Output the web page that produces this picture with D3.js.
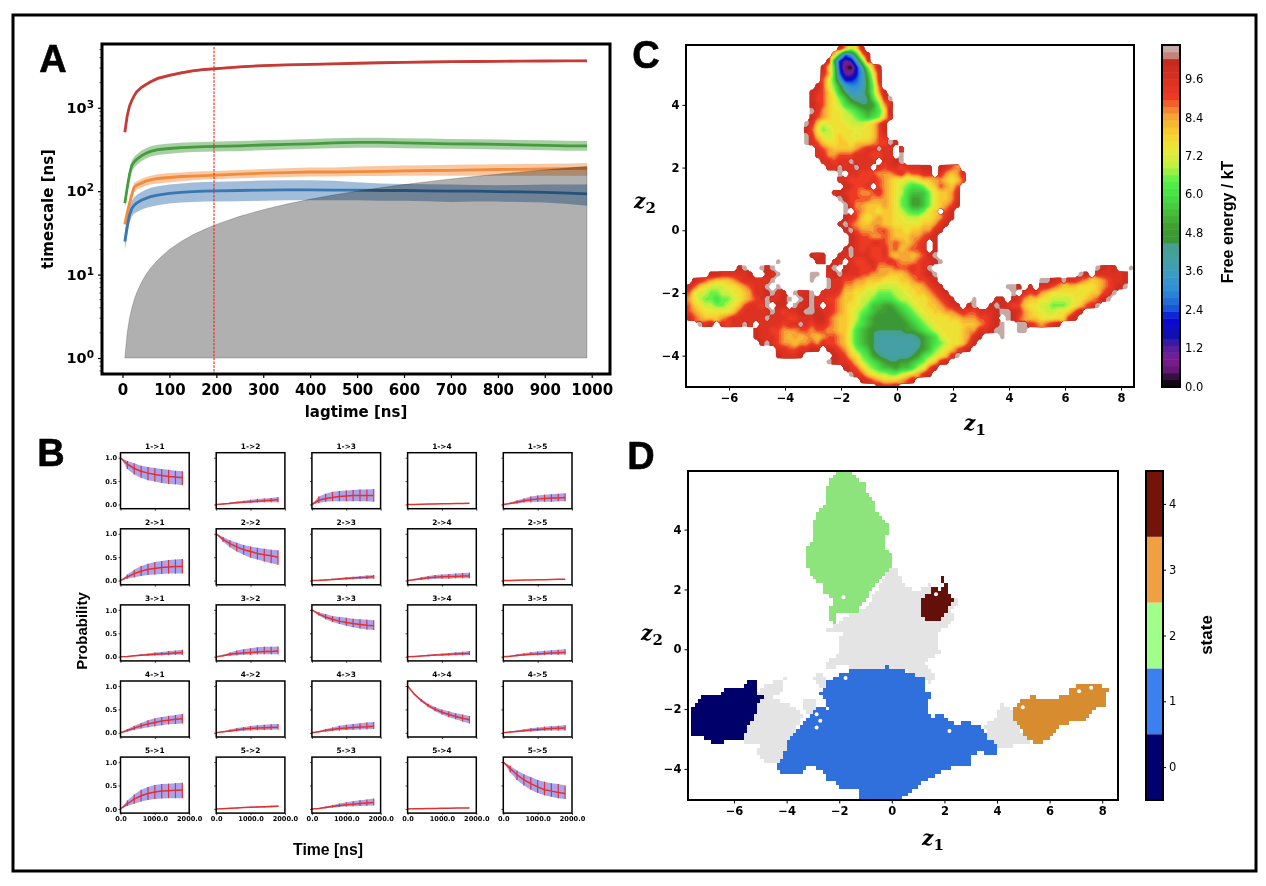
<!DOCTYPE html>
<html><head><meta charset="utf-8">
<script src="https://cdn.jsdelivr.net/npm/d3@7/dist/d3.min.js"></script>
<style>
html,body{margin:0;padding:0;background:#fff}
svg{display:block;filter:blur(.45px)}
text{fill:#000}
</style></head><body><div id="chart"></div>
<script>
// ---------- Panel A: implied timescales ----------
const lagTimes=[5,10,15,20,25,30,40,50,60,75,100,125,150,175,200,250,300,350,400,450,500,550,600,650,700,750,800,850,900,950,990];
const redMean=[510,800,1050,1230,1400,1550,1750,1900,2050,2250,2450,2620,2780,2880,2950,3100,3200,3270,3320,3370,3420,3470,3510,3540,3570,3590,3610,3630,3640,3650,3660];
const redLow=[490,770,1010,1180,1340,1480,1680,1830,1970,2160,2350,2520,2680,2780,2850,3000,3100,3170,3220,3270,3320,3370,3410,3440,3470,3490,3510,3530,3540,3550,3560];
const redHigh=[530,830,1090,1280,1460,1620,1820,1970,2130,2340,2550,2720,2880,2980,3050,3200,3300,3370,3420,3470,3520,3570,3610,3640,3670,3690,3710,3730,3740,3750,3760];
const greenMean=[72,110,160,205,225,240,265,285,300,315,325,333,338,342,345,350,358,365,370,380,385,385,380,375,370,368,365,360,355,350,350];
const greenLow=[62,92,135,175,192,205,228,246,260,272,282,290,295,298,300,304,310,316,322,328,332,332,328,325,322,320,317,313,310,306,305];
const greenHigh=[82,128,185,235,258,275,305,328,345,360,372,380,386,390,395,400,408,415,422,432,438,438,432,428,422,420,417,412,408,402,400];
const orangeMean=[40,55,72,92,112,118,125,132,137,142,146,150,152,154,156,160,165,167,170,170,172,173,175,177,178,180,182,183,185,186,188];
const orangeLow=[38,50,64,80,98,104,110,116,120,124,128,132,135,138,140,143,146,148,150,150,152,152,153,153,153,153,153,153,153,153,153];
const orangeHigh=[42,60,80,104,126,132,140,148,153,160,165,168,171,173,175,180,185,188,192,192,198,200,203,205,207,209,210,212,214,215,218];
const blueMean=[25,38,52,62,68,72,78,82,86,90,94,97,99,100,101,102,103,104,104,103,103,102,102,101,100,100,99,98,97,95,93];
const blueLow=[20,29,42,50,54,56,60,63,65,68,71,73,74,75,75,76,77,78,78,78,78,77,77,76,74,75,75,74,73,70,67];
const blueHigh=[32,48,66,78,84,90,98,104,110,115,120,124,127,129,130,132,134,135,135,133,128,124,122,121,120,119,118,119,120,120,120];
const cutoffTop=[1,2,3,4,5,6,8,10,12,15,20,25,30,35,40,50,60,70,80,90,100,110,120,130,140,150,160,170,180,190,198];
const chosenLag=195;
const lagTicks=[0,100,200,300,400,500,600,700,800,900,1000];
const timescaleTicks=[1,10,100,1000];
const timescaleMinor=[0.7,0.8,0.9,2,3,4,5,6,7,8,9,20,30,40,50,60,70,80,90,200,300,400,500,600,700,800,900,2000,3000,4000,5000];

// ---------- Panel B: Chapman-Kolmogorov test (i->j), t = 0,200,...,1800 ns ----------
const ckTimes=[0,200,400,600,800,1000,1200,1400,1600,1800];
const ckMean=[
[1,.86,.77,.71,.67,.64,.62,.60,.59,.57],[0,.01,.02,.04,.05,.06,.07,.08,.09,.10],[0,.09,.13,.15,.17,.18,.19,.19,.19,.19],[0,.002,.005,.008,.011,.014,.017,.02,.023,.026],[0,.02,.05,.08,.10,.12,.13,.14,.14,.15],
[0,.08,.15,.20,.24,.26,.28,.29,.30,.30],[1,.88,.79,.72,.66,.62,.58,.55,.53,.50],[0,.005,.015,.025,.035,.045,.055,.065,.07,.08],[0,.02,.04,.06,.07,.08,.09,.09,.10,.10],[0,.003,.006,.01,.013,.016,.02,.023,.026,.03],
[0,.006,.02,.03,.04,.05,.06,.07,.08,.09],[0,.02,.05,.07,.08,.09,.10,.11,.11,.12],[1,.91,.85,.80,.76,.73,.71,.69,.67,.66],[0,.006,.015,.025,.035,.04,.05,.06,.065,.07],[0,.01,.025,.04,.05,.06,.07,.08,.085,.09],
[0,.05,.10,.15,.19,.22,.25,.27,.29,.30],[0,.02,.04,.06,.08,.09,.10,.11,.115,.12],[0,.02,.05,.07,.09,.10,.115,.125,.13,.14],[1,.82,.69,.58,.50,.44,.39,.35,.31,.28],[0,.015,.03,.045,.06,.07,.08,.09,.095,.10],
[0,.11,.21,.28,.33,.36,.38,.39,.40,.40],[0,.005,.012,.02,.028,.035,.04,.045,.05,.055],[0,.01,.03,.05,.07,.09,.10,.115,.125,.135],[0,.002,.005,.007,.01,.012,.014,.017,.019,.02],[1,.86,.73,.62,.54,.47,.41,.38,.35,.33]];
const ckLow=[
[1,.76,.64,.57,.52,.49,.46,.44,.43,.41],[0,.005,.015,.02,.03,.035,.04,.05,.05,.05],[0,.03,.06,.07,.07,.07,.07,.07,.07,.06],[0,0,.003,.006,.009,.012,.015,.018,.021,.024],[0,.01,.02,.04,.05,.06,.06,.06,.07,.07],
[0,.04,.07,.10,.12,.13,.14,.15,.15,.15],[1,.83,.71,.62,.55,.49,.45,.41,.37,.34],[0,.003,.008,.012,.018,.022,.028,.032,.036,.04],[0,.01,.02,.03,.04,.04,.04,.05,.05,.05],[0,.001,.004,.008,.011,.014,.018,.021,.024,.028],
[0,.003,.01,.015,.02,.025,.03,.035,.04,.04],[0,.01,.02,.03,.04,.04,.05,.05,.05,.05],[1,.88,.80,.74,.70,.66,.63,.60,.58,.57],[0,.003,.008,.012,.018,.02,.025,.03,.032,.035],[0,.005,.012,.02,.03,.03,.035,.04,.04,.045],
[0,.03,.06,.09,.12,.14,.16,.18,.19,.20],[0,.01,.02,.035,.045,.05,.055,.06,.065,.07],[0,.012,.03,.04,.05,.06,.065,.07,.075,.08],[1,.81,.66,.55,.46,.39,.33,.29,.24,.20],[0,.008,.018,.025,.03,.04,.045,.05,.05,.05],
[0,.06,.11,.16,.19,.21,.22,.23,.23,.23],[0,.003,.008,.014,.02,.024,.028,.032,.036,.04],[0,.006,.015,.03,.04,.05,.055,.06,.065,.07],[0,0,.003,.005,.008,.01,.012,.015,.017,.018],[1,.78,.62,.5,.41,.34,.29,.26,.23,.21]];
const ckHigh=[
[1,.93,.88,.83,.80,.78,.76,.74,.72,.71],[0,.02,.04,.06,.08,.10,.12,.13,.14,.16],[0,.17,.23,.27,.29,.30,.31,.32,.32,.33],[0,.005,.008,.011,.014,.017,.02,.023,.026,.029],[0,.04,.09,.13,.17,.19,.21,.22,.23,.24],
[0,.13,.23,.31,.36,.40,.42,.44,.45,.46],[1,.93,.86,.81,.76,.73,.70,.68,.66,.65],[0,.01,.025,.04,.055,.07,.08,.095,.11,.12],[0,.04,.07,.10,.12,.13,.14,.15,.16,.17],[0,.005,.008,.012,.015,.018,.022,.025,.028,.032],
[0,.012,.03,.05,.07,.09,.10,.12,.13,.15],[0,.04,.09,.13,.16,.18,.20,.21,.21,.22],[1,.95,.91,.87,.85,.83,.81,.80,.79,.78],[0,.012,.025,.04,.055,.07,.08,.095,.105,.12],[0,.02,.05,.075,.095,.11,.125,.14,.15,.16],
[0,.08,.15,.21,.27,.31,.34,.36,.38,.40],[0,.03,.07,.10,.125,.145,.16,.17,.18,.19],[0,.04,.08,.115,.15,.17,.19,.205,.22,.23],[1,.84,.72,.62,.55,.50,.46,.42,.39,.36],[0,.025,.05,.075,.095,.115,.13,.14,.15,.16],
[0,.18,.31,.41,.47,.51,.53,.54,.55,.56],[0,.008,.018,.028,.038,.048,.055,.06,.068,.075],[0,.02,.05,.085,.115,.14,.165,.185,.2,.22],[0,.004,.007,.009,.012,.014,.016,.019,.021,.022],[1,.92,.82,.74,.68,.62,.58,.55,.53,.50]];
const ckYTicks=[0,.5,1];
const ckXTicks=[0,1000,2000];

// ---------- Panel C: free energy surface. Each row lists [first column, codes];
// code = base-36 digit, energy = digit / 2 kT ; '.' = no sample, 'l' = top (grey) band. Rows run z2 = 5.8, 5.6 ... -5.0 ----------
const fesRows=[
[[27,"khegk"]],
[[26,"hb57bhk"]],
[[25,"ka4237cj"]],
[[24,"kgc41048dhk"]],
[[24,"jhc52247bfj"]],
[[24,"ifc74457aej"]],
[[23,"kifda7667adi"]],
[[22,"kjigeb9778adhk"]],
[[22,"kiigfdb9889cfjl"]],
[[22,"kjigfecba99adhj"]],
[[22,"ljhgffedcbabcfk"]],
[[22,"kihgffeedcbcdgj"]],
[[21,"ljgeffffeeefgik"]],
[[21,"kifdefffffffgik"]],
[[21,"ljgfefgffeffgij"]],
[[21,"ljigffggfggghiilk"]],
[[23,"jihgggghijjljj.j"]],
[[23,"jjhhiiijjjiijj.l"]],
[[24,"jjijjljjjj.jjkl"]],
[[25,"jjljjljj.jijjijjjkk.kjih"]],
[[27,"l.jjiiihhhijhiijj.jhghj"]],
[[27,"jjiiiijihgffeefgghhgfgi"]],
[[28,"kjiij.ihgfedccdfgihgi"]],
[[26,"jkjiihhijhgfecbbbdfgghj"]],
[[27,"lkiiiihhhgfdcaabdfgghj"]],
[[28,"ljhhggghgfdcaabdfghik"]],
[[28,"l.ihggfggfedccdfg.ik"]],
[[28,"kjigfghggffeeeffghjk"]],
[[27,"klihgghhggfffffgghjk"]],
[[28,"klihhhiihggfgghhjk"]],
[[29,"kjiihhihggghhijk"]],
[[29,"kjiijjihihghij.k"]],
[[28,"kljijiijhighiij.k"]],
[[22,"kjk..kjljjjiijhghhghikl"]],
[[16,"l"],[23,"kk.kj.jiijjiijihhhijjkl"]],
[[9,"kl..lkl"],[25,"kl.kjjiijhhhiiijijl"],[73,"lkjk..l"]],
[[4,"kkjjjjjk..kjl.....ll.jkljjjiihhhggghiijkl"],[70,"lk.jjjjjk"]],
[[1,"kjihggghijjjjjl......l..ljjiihhgggfffgghiijk"],[63,"llkjljjihgghijjk"]],
[[0,"kigfeeeffghijjl.l........ljjhhggffeeeeffgghijk"],[57,"llk.k.jjihgggfffghijkl"]],
[[0,"ifeeddeeffghjjkljk.ljkl.jjjiggffeedddeeffgghijk"],[58,"l.jijhgfffffffggijl"]],
[[0,"hfeddcddefghijljjkl.lkljjiihggfeedcccdeefffghijk"],[51,"l"],[55,"kk"],[58,"kjhggffeeeeffghikl"]],
[[0,"igfeeddefgijjil.kk.ljklj.jihgffedbbaabcdeffgghijk"],[50,"kl..klkjiigffeedddefgijl"]],
[[0,"ihgfffffgijjjjjljijjkllkjjihgfedcbaa9abcdeffgghhijiijjjkllkjhgffeeffgik"]],
[[0,"kihgggh"+"ijjjjjjljjjiijjjkkihg"+"gfecba9999abcdeffffgghhhiijk"],[57,"lkihggffffgjk"]],
[[2,"ljk.jijjlj"],[13,"jjjjijjljijjihggfdcba99999abcdefffffggghijk"],[56,"l"],[59,"lljihijk"]],
[[12,"kjjiihhhiihiihhggecba999999aabcdeffffghhjjk"],[55,"ll"],[59,"ll"]],
[[12,"kjjjihghghhghiihgecba988888889abcefffghjk"],[56,"l"]],
[[13,"kljihhghhihjiihgecba988888888abcdeffgik"]],
[[16,"jjiijjkk.kjihfdcb988888889abdefgijk"]],
[[16,"kjjjk"],[26,"kjigfdca9888889acdefgjl"]],
[[25,"lkjjigedcba99aabcdfgjk"]],
[[28,"kjigedcbbabbcefik"]],
[[29,"ljigfeeddefghjk"]],
[[31,"kjihggghik"]],
[[34,"kjjk"]]
];
const fesEnergyStops=[0,.3,.55,.9,1.3,1.6,2.1,2.5,3,3.5,4,4.4,4.55,4.9,5.4,5.9,6.4,6.9,7.4,7.9,8.5,9.05,9.6,10.2,10.23,10.45,10.66];
const fesColourStops=["#000000","#30103a","#6a1a78","#7c1d96","#4a1ea0","#1010b0","#0808d8","#1a5fd8","#2f8cd8","#3a9cc4","#45a0a0","#45a090","#3a9838","#3e9a30","#45bb3a","#44dd44","#55f04a","#c0f040","#eae838","#f8d030","#f5a035","#ee3a25","#d83020","#c42a20","#c46a60","#c49a90","#c8b8b8"];
const fesTicks=[0,1.2,2.4,3.6,4.8,6,7.2,8.4,9.6];
const z1Ticks=[-6,-4,-2,0,2,4,6,8];
const z2TicksC=[-4,-2,0,2,4];
const z2TicksD=[-4,-2,0,2,4];

// ---------- Panel D: metastable states as outlines in (z1,z2) ----------
const unassignedOutlines=[
[[-.15,2.61],[.11,2.74],[.38,2.44],[.38,2.18],[.92,1.93],[1.45,2.16],[2.22,1.71],[2.53,1.65],[2.30,1.26],[2.45,1.09],[2.22,.81],[1.76,.58],[1.73,.13],[1.84,-.09],[1.45,-.31],[1.23,-.54],[1.68,-.88],[1.45,-1.16],[.54,-.65],[-1.45,-.63],[-2.07,-.54],[-2.22,-.69],[-2.6,-.54],[-2.22,-.26],[-2.07,-.2],[-1.99,.36],[-1.76,.58],[-2.22,.64],[-2.53,.64],[-2.07,.87],[-1.61,1.15],[-.99,1.37]],
[[-2.99,-.93],[-2.68,-.79],[-2.37,-1.04],[-2.6,-1.33],[-2.83,-1.10]],
[[-5.13,-1.49],[-4.82,-1.16],[-4.4,-1.08],[-4.06,-.97],[-4.13,-1.33],[-4.52,-1.66],[-3.98,-1.78],[-3.6,-2.0],[-3.37,-2.22],[-3.6,-2.67],[-3.98,-3.07],[-4.06,-3.46],[-4.29,-3.85],[-4.82,-3.80],[-5.13,-3.46],[-4.98,-3.12],[-5.67,-3.18],[-5.59,-2.79]],
[[-3.37,-1.72],[-2.99,-1.61],[-2.83,-1.94],[-3.06,-2.17],[-3.29,-2.11]],
[[3.52,-2.56],[3.9,-2.34],[4.13,-1.83],[4.52,-1.89],[4.64,-2.34],[5.13,-3.01],[5.28,-3.18],[4.75,-3.18],[4.36,-3.33],[4.03,-3.29],[3.68,-3.01]]];
const state0Outline=[[-7.64,-2.0],[-7.12,-1.53],[-6.58,-1.49],[-6.2,-1.27],[-5.74,-1.27],[-5.44,-1.07],[-5.13,-1.07],[-5.13,-1.49],[-4.82,-1.53],[-5.05,-1.78],[-5.13,-2.11],[-5.51,-2.67],[-5.67,-3.07],[-6.43,-3.10],[-6.51,-3.21],[-7.04,-3.07],[-7.2,-2.87],[-7.64,-2.87]];
const state1Outline=[[-1.45,-.63],[-.08,-.60],[.61,-.76],[1.23,-.99],[1.30,-1.16],[1.23,-1.38],[1.58,-1.49],[1.30,-1.89],[1.53,-2.34],[1.76,-2.06],[2.07,-2.34],[2.45,-2.54],[2.91,-2.34],[2.99,-2.56],[3.37,-2.56],[3.68,-3.01],[4.03,-3.18],[4.03,-3.52],[3.29,-3.46],[2.91,-3.63],[2.99,-3.85],[2.45,-3.91],[1.84,-4.13],[1.15,-4.47],[.54,-4.87],[.23,-5.03],[-1.26,-5.03],[-1.30,-4.72],[-1.99,-4.64],[-2.14,-4.42],[-2.45,-4.42],[-2.57,-4.16],[-3.06,-3.89],[-3.60,-4.22],[-4.29,-4.16],[-4.36,-3.85],[-4.06,-3.46],[-3.98,-3.07],[-3.60,-2.67],[-3.06,-2.17],[-2.83,-1.94],[-2.37,-2.0],[-2.71,-1.49],[-2.45,-1.10],[-1.91,-.82]];
const state2Outline=[[-2.24,5.89],[-1.61,5.94],[-1.42,5.89],[-1.33,5.70],[-1.06,5.53],[-.95,5.25],[-.77,5.08],[-.57,4.88],[-.61,4.63],[-.46,4.43],[-.23,4.24],[-.11,4.01],[-.23,3.79],[-.31,3.51],[-.08,3.28],[.08,2.94],[-.08,2.72],[-.31,2.44],[-.61,2.16],[-.89,1.93],[-.77,1.82],[-1.15,1.48],[-1.30,1.20],[-1.61,1.15],[-2.07,1.20],[-2.10,.87],[-2.22,.83],[-2.40,1.09],[-2.42,1.43],[-2.17,1.43],[-2.30,1.71],[-2.68,1.93],[-2.60,2.10],[-2.99,2.33],[-3.22,2.78],[-3.25,3.34],[-3.06,3.62],[-3.02,4.29],[-2.68,4.69],[-2.45,5.02],[-2.57,5.25],[-2.37,5.53]];
const state3Outline=[[4.64,-1.94],[4.90,-1.72],[5.36,-1.58],[5.97,-1.66],[6.74,-1.55],[6.81,-1.27],[7.2,-1.16],[7.81,-1.16],[8.19,-1.27],[8.19,-1.44],[7.96,-1.55],[8.19,-1.66],[8.04,-1.94],[7.66,-2.0],[7.35,-2.39],[6.81,-2.45],[6.43,-2.56],[6.05,-2.96],[5.59,-3.18],[5.13,-3.01],[4.90,-2.62],[4.67,-2.34]];
const state4Outline=[[1.15,1.76],[1.53,1.79],[1.53,2.04],[1.84,2.02],[2.07,2.18],[2.19,1.82],[2.37,1.71],[2.19,1.43],[2.14,1.26],[1.84,.98],[1.23,.98],[1.15,1.09]];
const state4Island=[[1.87,2.42],[2.07,2.42],[1.95,2.24]];
const stateHoles=[[-1.76,-.96],[-2.86,-2.17],[-2.72,-2.39],[-2.86,-2.62],[2.19,-2.73],[4.98,-1.94],[7.12,-1.40],[7.58,-1.29],[1.68,1.84],[-1.84,1.74]];
const stateLabels=[0,1,2,3,4];
const stateRegionColours=["#00006b","#3070dd","#8ee47c","#d88c30","#64100a"];
const stateBarColours=["#000070","#3a80f0","#a0ff88","#f0a040","#741408"];

const W=1266,H=886;
const svg=d3.select("#chart").append("svg").attr("width",W).attr("height",H).attr("viewBox",`0 0 ${W} ${H}`);
const BOLD="'DejaVu Sans',sans-serif", ARIAL="'Liberation Sans',Arial,sans-serif";
svg.append("rect").attr("x",13).attr("y",15).attr("width",1243).attr("height",856).attr("fill","#fff").attr("stroke","#000").attr("stroke-width",3);
const defs=svg.append("defs");

function panelLetter(t,x,y){svg.append("text").attr("x",x).attr("y",y).attr("text-anchor","middle").attr("font-family",ARIAL).attr("font-weight",700).attr("font-size",38).attr("stroke","#000").attr("stroke-width",.6).text(t);}
function label(t,x,y,rot,family,size,weight){
  const g=svg.append("text").attr("text-anchor","middle").attr("font-family",family).attr("font-weight",weight||700).attr("font-size",size);
  g.attr("transform",`translate(${x},${y})${rot?` rotate(${rot})`:""}`).text(t);return g;}
function zLabel(n,x,y){
  const t=svg.append("text").attr("text-anchor","middle").attr("transform",`translate(${x},${y})`).attr("font-family","'DejaVu Serif',serif").attr("font-weight",700).attr("font-size",20);
  t.append("tspan").attr("font-style","italic").text("z");
  t.append("tspan").attr("font-size",15).attr("dy",5).text(n);}
function frame(g,x0,y0,w,h,sw){g.append("rect").attr("x",x0).attr("y",y0).attr("width",w).attr("height",h).attr("fill","none").attr("stroke","#000").attr("stroke-width",sw);}
function styleAxis(a,size,lw,weight,family){a.select(".domain").remove();a.selectAll(".tick line").attr("stroke","#000").attr("stroke-width",lw);
  a.selectAll("text").attr("font-family",family||BOLD).attr("font-weight",weight||700).attr("font-size",size).attr("fill","#000");}
const minusFmt=d=>(d<0?"\u2212"+(-d):""+d);

// ===== Panel A =====
(function(){
  const L=102,R=610,T=44,B=374;
  const x=d3.scaleLinear().domain([-43.7,1039]).range([L,R]);
  const y=d3.scaleLog().domain([0.643,5820]).range([B,T]);
  const g=svg.append("g");
  defs.append("clipPath").attr("id","clipA").append("rect").attr("x",L).attr("y",T).attr("width",R-L).attr("height",B-T);
  const plot=g.append("g").attr("clip-path","url(#clipA)");
  const idx=d3.range(lagTimes.length);
  const area=(lo,hi)=>d3.area().x(i=>x(lagTimes[i])).y0(i=>y(lo[i])).y1(i=>y(hi[i]))(idx);
  const line=m=>d3.line().x(i=>x(lagTimes[i])).y(i=>y(m[i]))(idx);
  const series=[[redMean,redLow,redHigh,"#c73b36"],[greenMean,greenLow,greenHigh,"#459c3e"],[orangeMean,orangeLow,orangeHigh,"#f28b3c"],[blueMean,blueLow,blueHigh,"#3a76b0"]];
  series.forEach(s=>plot.append("path").attr("d",area(s[1],s[2])).attr("fill",s[3]).attr("opacity",.48));
  series.forEach(s=>plot.append("path").attr("d",line(s[0])).attr("fill","none").attr("stroke",s[3]).attr("stroke-width",2.8));
  plot.append("path").attr("d",d3.area().x(i=>x(lagTimes[i])).y0(y(1)).y1(i=>y(cutoffTop[i]))(idx)).attr("fill","#000").attr("fill-opacity",.31).attr("stroke","#000").attr("stroke-opacity",.2);
  plot.append("line").attr("x1",x(chosenLag)).attr("x2",x(chosenLag)).attr("y1",47).attr("y2",B).attr("stroke","#e8261c").attr("stroke-width",1.1).attr("stroke-dasharray","2.5,1.2");
  const ax=g.append("g").attr("transform",`translate(0,${B})`).call(d3.axisBottom(x).tickValues(lagTicks).tickSize(4).tickPadding(6).tickFormat(d3.format("d")));
  styleAxis(ax,15,1.2);
  const ay=g.append("g").attr("transform",`translate(${L},0)`).call(d3.axisLeft(y).tickValues(timescaleTicks).tickSize(4).tickPadding(4).tickFormat(""));
  styleAxis(ay,14.5,1.2);
  ay.selectAll(".tick text").each(function(d){const t=d3.select(this);t.text("10");t.append("tspan").attr("dy",-5).attr("font-size",10.5).text(Math.round(Math.log10(d)));});
  g.append("g").selectAll("line").data(timescaleMinor).join("line").attr("x1",L-2.5).attr("x2",L).attr("y1",d=>y(d)).attr("y2",d=>y(d)).attr("stroke","#000").attr("stroke-width",.7);
  frame(g,L,T,R-L,B-T,3);
  label("lagtime [ns]",356,417,0,BOLD,15);
  label("timescale [ns]",53,209,-90,BOLD,15);
})();
panelLetter("A",53,72);

// ===== Panel B =====
(function(){
  const colX=[120.5,216.2,311.9,407.6,503.3],rowY=[452.7,528.8,604.9,681,757.1],w=68.7,h=56;
  for(let r=0;r<5;r++)for(let c=0;c<5;c++){
    const k=r*5+c,g=svg.append("g").attr("transform",`translate(${colX[c]},${rowY[r]})`);
    const x=d3.scaleLinear().domain([0,2000]).range([0,w]);
    const y=d3.scaleLinear().domain([-.09,1.107]).range([h,0]);
    const idx=d3.range(ckTimes.length);
    g.append("path").attr("d",d3.area().x(i=>x(ckTimes[i])).y0(i=>y(ckLow[k][i])).y1(i=>y(ckHigh[k][i]))(idx)).attr("fill","#4a4ae8").attr("opacity",.5);
    g.append("g").selectAll("line").data(idx.slice(1)).join("line").attr("x1",i=>x(ckTimes[i])).attr("x2",i=>x(ckTimes[i])).attr("y1",i=>y(ckLow[k][i])).attr("y2",i=>y(ckHigh[k][i])).attr("stroke","#e4312b").attr("stroke-width",1.2);
    g.append("path").attr("d",d3.line().x(i=>x(ckTimes[i])).y(i=>y(ckMean[k][i]))(idx)).attr("fill","none").attr("stroke","#e4312b").attr("stroke-width",1.5);
    const ax=g.append("g").attr("transform",`translate(0,${h})`).call(d3.axisBottom(x).tickValues(ckXTicks).tickSize(2).tickPadding(1.5).tickFormat(d=>r===4?d3.format(".1f")(d):""));
    styleAxis(ax,6.6,.7);
    const ay=g.append("g").call(d3.axisLeft(y).tickValues(ckYTicks).tickSize(2).tickPadding(1.5).tickFormat(d=>c===0?d3.format(".1f")(d):""));
    styleAxis(ay,6.6,.7);
    frame(g,0,0,w,h,1.5);
    g.append("text").attr("x",w/2).attr("y",-4).attr("text-anchor","middle").attr("font-family",BOLD).attr("font-weight",700).attr("font-size",7.4).text(`${r+1}->${c+1}`);
  }
  label("Probability",87,631,-90,ARIAL,15);
  label("Time [ns]",328,855,0,ARIAL,15.8);
})();
panelLetter("B",51,466);

// ===== Panel C =====
(function(){
  const L=686,R=1134,T=45,B=387;
  const x=d3.scaleLinear().domain([-7.536,8.464]).range([L,R]);
  const y=d3.scaleLinear().domain([5.91,-5]).range([T,B]);
  const n=80,m=55,blank=-13,F=4,greyE=10.6;
  const coarse=new Array(n*m).fill(null);
  fesRows.forEach((row,j)=>row.forEach(([s,str])=>{for(let q=0;q<str.length;q++){const ch=str[q];if(ch!=="."&&s+q<n)coarse[j*n+s+q]=parseInt(ch,36)/2;}}));
  // refine the read-off grid so that d3.contours can follow the sampled mask
  const fn=n*F,fm=m*F,values=new Float64Array(fn*fm);
  const at=(i,j)=>(i<0||j<0||i>=n||j>=m)?null:coarse[j*n+i];
  for(let fy=0;fy<fm;fy++)for(let fx=0;fx<fn;fx++){
    const u=(fx+.5)/F-.5,v=(fy+.5)/F-.5,i0=Math.floor(u),j0=Math.floor(v),tu=u-i0,tv=v-j0;
    let real=0,grey=0,sum=0;
    [[i0,j0,(1-tu)*(1-tv)],[i0+1,j0,tu*(1-tv)],[i0,j0+1,(1-tu)*tv],[i0+1,j0+1,tu*tv]].forEach(([i,j,w])=>{
      const e=at(i,j);if(e===null)return;if(e>10.4)grey+=w;else{real+=w;sum+=w*e;}});
    values[fy*fn+fx]=(real+grey<.5)?blank:(grey>=real?-greyE:-sum/real);
  }
  const colour=d3.scaleLinear().domain(fesEnergyStops).range(fesColourStops).interpolate(d3.interpolateRgb).clamp(true);
  const step=10.66/50,levels=d3.range(50);
  const contours=d3.contours().size([fn,fm]).smooth(true).thresholds(levels.slice().reverse().map(k=>-(k+1)*step))(values);
  const tf=d3.geoTransform({point(a,b){this.stream.point(x(-7.44+.2*(a/F-.5)),y(5.8-.2*(b/F-.5)));}});
  const geo=d3.geoPath(tf);
  defs.append("clipPath").attr("id","clipC").append("rect").attr("x",L).attr("y",T).attr("width",R-L).attr("height",B-T);
  const g=svg.append("g");
  g.append("g").attr("clip-path","url(#clipC)").selectAll("path").data(contours).join("path").attr("d",geo)
    .attr("fill",d=>colour(-d.value-step/2));
  const ax=g.append("g").attr("transform",`translate(0,${B})`).call(d3.axisBottom(x).tickValues(z1Ticks).tickSize(3.5).tickPadding(3).tickFormat(minusFmt));
  styleAxis(ax,11.5,1);
  const ay=g.append("g").attr("transform",`translate(${L},0)`).call(d3.axisLeft(y).tickValues(z2TicksC).tickSize(3.5).tickPadding(3).tickFormat(minusFmt));
  styleAxis(ay,11.5,1);
  frame(g,L,T,R-L,B-T,2);
  zLabel("1",975,430);zLabel("2",645,208);
  const cx=1162,cw=18,cy=d3.scaleLinear().domain([0,10.66]).range([386.5,45]);
  g.append("g").selectAll("rect").data(levels).join("rect").attr("x",cx).attr("width",cw)
    .attr("y",k=>cy((k+1)*step)).attr("height",k=>cy(k*step)-cy((k+1)*step)+.5).attr("fill",k=>colour((k+.5)*step));
  const ac=g.append("g").attr("transform",`translate(${cx+cw},0)`).call(d3.axisRight(cy).tickValues(fesTicks).tickSize(0).tickPadding(5).tickFormat(d3.format(".1f")));
  styleAxis(ac,11.5,0,400);
  frame(g,cx,45,cw,342,2);
  label("Free energy / kT",1233,222,-90,ARIAL,16);
})();
panelLetter("C",646,68);

// ===== Panel D =====
(function(){
  const L=688,R=1118,T=471,B=800;
  const x=d3.scaleLinear().domain([-7.75,8.6]).range([L,R]);
  const y=d3.scaleLinear().domain([5.96,-5.04]).range([T,B]);
  defs.append("clipPath").attr("id","clipD").append("rect").attr("x",L).attr("y",T).attr("width",R-L).attr("height",B-T);
  const g=svg.append("g"),plot=g.append("g").attr("clip-path","url(#clipD)");
  // states are rasterised on the map's bin size, as in the original histogram
  const bin=.125,zs1=d3.range(-7.75,8.6,bin),zs2=d3.range(-5.04,5.96,bin);
  const raster=outlines=>{let p=d3.path();
    zs1.forEach(a=>zs2.forEach(b=>{if(outlines.some(o=>d3.polygonContains(o,[a+bin/2,b+bin/2]))){
      p.rect(x(a),y(b+bin),x(a+bin)-x(a),y(b)-y(b+bin));}}));return p.toString();};
  const cell=sel=>sel.attr("shape-rendering","crispEdges");
  plot.append("path").attr("d",raster(unassignedOutlines)).attr("fill","#e4e4e4").call(cell);
  [[[state0Outline],0],[[state1Outline],1],[[state2Outline],2],[[state3Outline],3],[[state4Outline,state4Island],4]].forEach(([o,s])=>
    plot.append("path").attr("d",raster(o)).attr("fill",stateRegionColours[s]).call(cell));
  plot.selectAll("circle").data(stateHoles).join("circle").attr("cx",d=>x(d[0])).attr("cy",d=>y(d[1])).attr("r",2).attr("fill","#fff");
  const ax=g.append("g").attr("transform",`translate(0,${B})`).call(d3.axisBottom(x).tickValues(z1Ticks).tickSize(3.5).tickPadding(3).tickFormat(minusFmt));
  styleAxis(ax,11.5,1);
  const ay=g.append("g").attr("transform",`translate(${L},0)`).call(d3.axisLeft(y).tickValues(z2TicksD).tickSize(3.5).tickPadding(3).tickFormat(minusFmt));
  styleAxis(ay,11.5,1);
  frame(g,L,T,R-L,B-T,2);
  zLabel("1",933,845);zLabel("2",652,640);
  const cx=1146,cw=17,cy=d3.scaleLinear().domain([-.5,4.5]).range([800,471]);
  g.append("g").selectAll("rect").data(stateLabels).join("rect").attr("x",cx).attr("width",cw).attr("y",d=>cy(d+.5)).attr("height",d=>cy(d-.5)-cy(d+.5)).attr("fill",d=>stateBarColours[d]);
  const ac=g.append("g").attr("transform",`translate(${cx+cw},0)`).call(d3.axisRight(cy).tickValues(stateLabels).tickSize(3).tickPadding(3).tickFormat(d3.format("d")));
  styleAxis(ac,11.5,1,400);
  frame(g,cx,T,cw,B-T,2);
  label("state",1212,635,-90,ARIAL,17);
})();
panelLetter("D",641,469);
</script></body></html>
